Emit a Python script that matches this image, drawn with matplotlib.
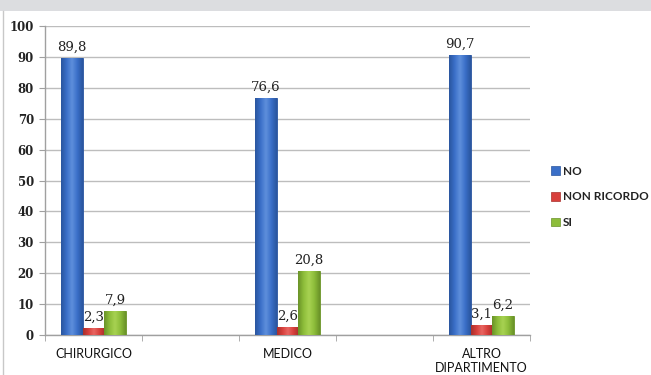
import matplotlib
matplotlib.use("Agg")
import matplotlib.pyplot as plt
import numpy as np
from matplotlib.patches import Rectangle
from matplotlib.lines import Line2D
from matplotlib.colors import LinearSegmentedColormap

categories = ["CHIRURGICO", "MEDICO", "ALTRO\nDIPARTIMENTO"]
series_names = ["NO", "NON RICORDO", "SI"]
no_values = [89.8, 76.6, 90.7]
non_ricordo_values = [2.3, 2.6, 3.1]
si_values = [7.9, 20.8, 6.2]
value_labels = {
    "NO": ["89,8", "76,6", "90,7"],
    "NON RICORDO": ["2,3", "2,6", "3,1"],
    "SI": ["7,9", "20,8", "6,2"],
}
y_ticks = [0, 10, 20, 30, 40, 50, 60, 70, 80, 90, 100]

colors = {"NO": "#3a6fc8", "NON RICORDO": "#d8403c", "SI": "#8dbd3a"}
dark = {"NO": "#2a559e", "NON RICORDO": "#a8302c", "SI": "#6a9228"}
light = {"NO": "#5f90dc", "NON RICORDO": "#e86662", "SI": "#a8d252"}

fig = plt.figure(figsize=(6.51, 3.75), dpi=100)
fig.patch.set_facecolor("white")
fig.patches.append(Rectangle((0, 1 - 11/375), 1, 11/375, transform=fig.transFigure,
                             facecolor="#dcdde0", edgecolor="none", zorder=0))
fig.lines.append(Line2D([2.5/651, 2.5/651], [0, 1 - 11/375], transform=fig.transFigure,
                        color="#c8c8c8", lw=1))

ax = fig.add_axes([45/651, 1 - 335/375, (530 - 45)/651, (335 - 26)/375])
x = np.arange(len(categories))
width = 0.111
series = [("NO", no_values), ("NON RICORDO", non_ricordo_values), ("SI", si_values)]

for i, (name, vals) in enumerate(series):
    offs = (i - 1) * width
    bars = ax.bar(x + offs, vals, width, color=colors[name], edgecolor=dark[name],
                  linewidth=0.6, zorder=3, label=name)
    cmap = LinearSegmentedColormap.from_list(name, [dark[name], colors[name], light[name],
                                                    colors[name], dark[name]])
    grad = np.linspace(0, 1, 64).reshape(1, -1)
    for b, lab in zip(bars, value_labels[name]):
        x0, w, h = b.get_x(), b.get_width(), b.get_height()
        im = ax.imshow(grad, extent=[x0, x0 + w, 0, h], aspect="auto", cmap=cmap,
                       zorder=3.5, interpolation="bicubic")
        im.set_clip_path(b)
        ax.annotate(lab, (x0 + w/2, h), xytext=(0, 3), textcoords="offset points",
                    ha="center", va="bottom", fontsize=9.5, family="DejaVu Serif",
                    color="#222222", zorder=5)

ax.set_xlim(-0.25, 2.25)
ax.set_ylim(0, 100)
ax.set_yticks(y_ticks)
ax.set_yticklabels([str(t) for t in y_ticks], family="DejaVu Serif", fontsize=8.5,
                   fontweight="bold", color="#222222")
ax.set_xticks(x)
ax.set_xticklabels(categories, family="Lato", fontsize=9, color="#111111")
ax.set_xticks(np.arange(-0.25, 2.26, 0.5), minor=True)
ax.tick_params(axis="x", which="major", length=0, pad=9)
ax.tick_params(axis="x", which="minor", length=4, color="#a0a0a0", direction="out")
ax.tick_params(axis="y", length=4, color="#a0a0a0", pad=4)
ax.grid(axis="y", color="#bdbdbd", linewidth=1, zorder=0)
ax.set_axisbelow(True)
for s in ["top", "right"]:
    ax.spines[s].set_visible(False)
for s in ["left", "bottom"]:
    ax.spines[s].set_color("#a0a0a0")
    ax.spines[s].set_linewidth(1)

handles = [Rectangle((0, 0), 1, 1, facecolor=colors[n], edgecolor=dark[n], lw=0.5)
           for n in series_names]
leg = fig.legend(handles, series_names, loc="center left", bbox_to_anchor=(549/651, 1 - 197/375),
                 frameon=False, handlelength=0.7, handleheight=0.7, handletextpad=0.25,
                 borderaxespad=0, borderpad=0.2,
                 labelspacing=1.25, prop={"family": "Lato", "size": 8.5, "weight": "bold"})
for t in leg.get_texts():
    t.set_color("#222222")

fig.savefig("out.png", dpi=100)
